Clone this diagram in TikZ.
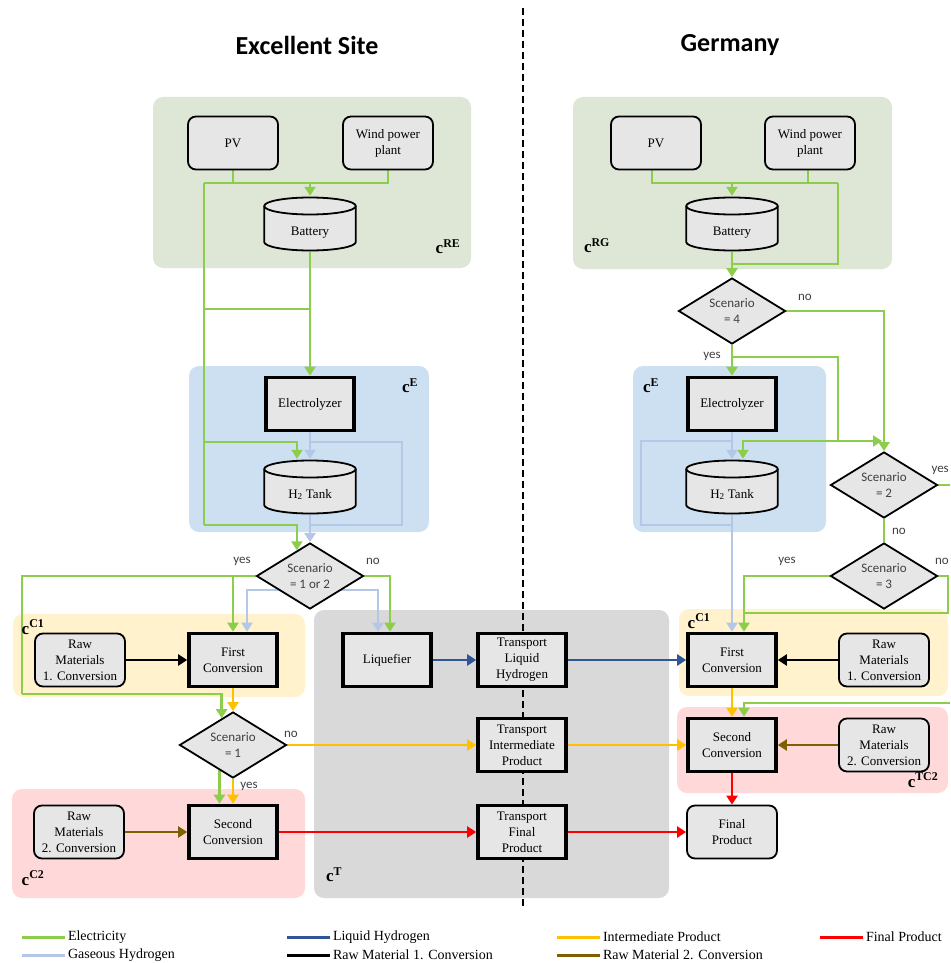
\documentclass[tikz,border=0pt]{standalone}
\usepackage{fontspec}
\setmainfont{Liberation Serif}
\newfontfamily\calibri{Carlito}
\usetikzlibrary{arrows.meta, shapes.geometric, calc}

\definecolor{ElecGreen}{RGB}{140,206,76}
\definecolor{GasBlue}{RGB}{180,199,231}
\definecolor{LiqBlue}{RGB}{47,85,151}
\definecolor{InterOrange}{RGB}{255,192,0}
\definecolor{FinalRed}{RGB}{255,0,0}
\definecolor{RawBrown}{RGB}{127,96,0}
\definecolor{BoxGray}{RGB}{231,230,230}
\definecolor{RegGreen}{RGB}{222,231,214}
\definecolor{RegBlue}{RGB}{204,224,241}
\definecolor{RegYellow}{RGB}{255,242,204}
\definecolor{RegRed}{RGB}{255,217,217}
\definecolor{RegGray}{RGB}{217,217,217}

\pgfdeclarelayer{regions}
\pgfdeclarelayer{wires}
\pgfsetlayers{regions,wires,main}

\newcommand{\boxfont}{\fontsize{13}{16}\selectfont}
\newcommand{\decfont}{\calibri\fontsize{13}{16}\selectfont}
\newcommand{\regfont}{\fontsize{17}{17}\selectfont\bfseries}
\newcommand{\legfont}{\fontsize{14}{16}\selectfont}

\begin{document}
\begin{tikzpicture}[x=1pt, y=-1pt,
  softbox/.style={draw, line width=1.8pt, rounded corners=8pt, fill=BoxGray,
    minimum width=90, minimum height=53, align=center, inner sep=1pt, font=\boxfont},
  hardbox/.style={draw, line width=3.6pt, fill=BoxGray,
    minimum width=88, minimum height=53, align=center, inner sep=1pt, font=\boxfont},
  tank/.style={minimum width=94, minimum height=56, inner sep=0pt, font=\boxfont,
    text height=22pt, text depth=0pt,
    path picture={
      \draw[fill=BoxGray, line width=1.8pt]
        ([shift={(1.2pt,-10pt)}]path picture bounding box.north west)
        -- ([shift={(1.2pt,10pt)}]path picture bounding box.south west)
        arc[start angle=180, end angle=360, x radius=45.8pt, y radius=8.5pt]
        -- ([shift={(-1.2pt,-10pt)}]path picture bounding box.north east)
        arc[start angle=0, end angle=180, x radius=45.8pt, y radius=8.5pt]
        -- cycle;
      \draw[line width=1.8pt]
        ([shift={(1.2pt,-10pt)}]path picture bounding box.north west)
        arc[start angle=180, end angle=360, x radius=45.8pt, y radius=8.5pt];
    }},
  decision/.style={diamond, draw, line width=1.8pt, fill=BoxGray, aspect=1.6,
    minimum width=107, minimum height=66, inner sep=0pt, align=center,
    font=\decfont, text=black!75},
  answer/.style={font=\decfont, text=black!75},
  region/.style={rounded corners=10pt},
  reglabel/.style={font=\regfont},
  wire/.style={line width=2.6pt},
  flowtip/.style={-{Triangle[length=9pt,width=11pt]}},
  elec/.style={wire, ElecGreen},
  elecflow/.style={elec, flowtip},
  gas/.style={wire, GasBlue},
  gasflow/.style={gas, flowtip},
  liqflow/.style={wire, LiqBlue, flowtip},
  interflow/.style={wire, InterOrange, flowtip},
  finalflow/.style={wire, FinalRed, flowtip},
  rawoneflow/.style={wire, black, flowtip},
  rawtwoflow/.style={wire, RawBrown, flowtip}]

  \useasboundingbox (0,0) rectangle (950,963);

  % site regions and the border line
  \begin{pgfonlayer}{regions}
    \fill[RegGreen, region] (153,97) rectangle (471,268);
    \fill[RegGreen, region] (573,97) rectangle (892,269);
    \fill[RegBlue, region] (189,366) rectangle (429,532);
    \fill[RegBlue, region] (633,366) rectangle (826,532);
    \fill[RegYellow, region] (13,614) rectangle (305,697);
    \fill[RegRed, region] (12,789) rectangle (305,898);
    \fill[RegGray, region] (314,610) rectangle (669,898);
    \fill[RegYellow, region] (679,609) rectangle (948,696);
    \fill[RegRed, region] (677,707) rectangle (948,793);
    \draw[line width=2.5pt, dash pattern=on 7pt off 4pt] (523,8) -- (523,908);
  \end{pgfonlayer}

  \node[font=\calibri\bfseries\fontsize{26}{26}\selectfont] (titleL) at (307,45) {Excellent Site};
  \node[font=\calibri\bfseries\fontsize{26}{26}\selectfont] (titleR) at (730,45) {Germany};

  \node[reglabel] (labRE) at (448,247) {c\textsuperscript{RE}};
  \node[reglabel] (labRG) at (597,246) {c\textsuperscript{RG}};
  \node[reglabel] (labEL) at (410,386) {c\textsuperscript{E}};
  \node[reglabel] (labER) at (651,386) {c\textsuperscript{E}};
  \node[reglabel] (labCoL) at (33,627) {c\textsuperscript{C1}};
  \node[reglabel] (labCtL) at (33,878) {c\textsuperscript{C2}};
  \node[reglabel] (labT) at (334,875) {c\textsuperscript{T}};
  \node[reglabel] (labCoR) at (699,621) {c\textsuperscript{C1}};
  \node[reglabel] (labCtR) at (923,780) {c\textsuperscript{TC2}};

  % Excellent Site
  \node[softbox] (pvL) at (233,143) {PV};
  \node[softbox] (windL) at (388,143) {Wind power\\plant};
  \node[tank] (batL) at (310,224) {Battery};
  \node[hardbox] (elecL) at (310,404) {Electrolyzer};
  \node[tank] (tankL) at (310,487) {H\textsubscript{2} Tank};
  \node[decision] (decL) at (310,576) {Scenario\\= 1 or 2};
  \node[softbox] (rawOneL) at (80,660) {Raw\\Materials\\1. Conversion};
  \node[hardbox] (firstL) at (233,660) {First\\Conversion};
  \node[decision] (decOneL) at (233,745) {Scenario\\= 1};
  \node[softbox] (rawTwoL) at (79,832) {Raw\\Materials\\2. Conversion};
  \node[hardbox] (secondL) at (233,832) {Second\\Conversion};

  % transport
  \node[hardbox] (liq) at (387,660) {Liquefier};
  \node[hardbox] (tLiq) at (522,660) {Transport\\Liquid\\Hydrogen};
  \node[hardbox] (tInt) at (522,745) {Transport\\Intermediate\\Product};
  \node[hardbox] (tFin) at (522,832) {Transport\\Final\\Product};

  % Germany
  \node[softbox] (pvR) at (656,143) {PV};
  \node[softbox] (windR) at (810,143) {Wind power\\plant};
  \node[tank] (batR) at (732,224) {Battery};
  \node[decision] (decFour) at (732,311) {Scenario\\= 4};
  \node[hardbox] (elecR) at (732,404) {Electrolyzer};
  \node[tank] (tankR) at (732,487) {H\textsubscript{2} Tank};
  \node[decision] (decTwo) at (884,485) {Scenario\\= 2};
  \node[decision] (decThree) at (884,576) {Scenario\\= 3};
  \node[hardbox] (firstR) at (732,660) {First\\Conversion};
  \node[softbox] (rawOneR) at (884,660) {Raw\\Materials\\1. Conversion};
  \node[hardbox] (secondR) at (732,745) {Second\\Conversion};
  \node[softbox] (rawTwoR) at (884,745) {Raw\\Materials\\2. Conversion};
  \node[softbox] (final) at (732,832) {Final\\Product};

  \node[answer] (yesL) at (242,561) {yes};
  \node[answer] (noL) at (373,561) {no};
  \node[answer] (noOneL) at (291,734) {no};
  \node[answer] (yesOneL) at (249,786) {yes};
  \node[answer] (noFour) at (805,297) {no};
  \node[answer] (yesFour) at (712,356) {yes};
  \node[answer, anchor=east, inner xsep=1pt] (yesTwo) at (950,470) {yes};
  \node[answer] (noTwo) at (899,531) {no};
  \node[answer] (yesThree) at (787,561) {yes};
  \node[answer, anchor=east, inner xsep=1pt] (noThreeLab) at (950,561) {no};

  \coordinate (busL) at (204,183);
  \coordinate (midL) at (204,309);
  \coordinate (tkL) at (204,442);
  \coordinate (trunkL) at (204,525);
  \coordinate (loopL) at (22,694);
  \coordinate (gasL) at (310,590);
  \coordinate (busR) at (838,183);
  \coordinate (retR) at (838,264);
  \coordinate (yesR) at (732,357);
  \coordinate (brR) at (838,441);
  \coordinate (edgeTwo) at (950,485);
  \coordinate (noThree) at (948,613);
  \coordinate (edgeSec) at (950,703);
  \coordinate (inFirstR) at ([xshift=12pt]firstR.north);
  \coordinate (inSecondR) at ([xshift=12pt]secondR.north);

  \begin{pgfonlayer}{wires}
    % Excellent Site: electricity
    \draw[elec] (pvL.south) -- (pvL.south |- busL);
    \draw[elec] (windL.south) |- (busL);
    \draw[elecflow] (batL.north |- busL) -- (batL.north);
    \draw[elec] (busL) -- (trunkL);
    \draw[elecflow] (trunkL) -| (decL.117);
    \draw[elec] (midL) -- (midL -| batL.south);
    \draw[elecflow] (batL.south) -- (elecL.north);
    \draw[elecflow] (tkL) -| ([xshift=-13pt]tankL.north);
    % Excellent Site: gaseous hydrogen
    \draw[gasflow] (elecL.south) -- (tankL.north);
    \draw[gas] (elecL.south |- tkL) -- ++(92,0) |- (tankL.south |- trunkL);
    \draw[gasflow] (tankL.south) -- (decL.north);
    % scenario 1 or 2
    \draw[elecflow] (decL.west) -| (firstL.north);
    \draw[elec] (decL.west) -| (loopL);
    \draw[elecflow] (loopL) -| (decOneL.113);
    \draw[elecflow] (decL.east) -| ([xshift=3pt]liq.north);
    \draw[gasflow] (gasL) -| ([xshift=14pt]firstL.north);
    \draw[gasflow] (gasL) -| ([xshift=-9pt]liq.north);
    % scenario 1
    \draw[interflow] (firstL.south) -- (decOneL.north);
    \draw[interflow] (decOneL.east) -- (tInt.west);
    \draw[elecflow] (decOneL.242) -- (decOneL.242 |- secondL.north);
    \draw[interflow] (decOneL.south) -- (secondL.north);
    \draw[rawoneflow] (rawOneL) -- (firstL);
    \draw[rawtwoflow] (rawTwoL) -- (secondL);
    % transport
    \draw[finalflow] (secondL) -- (tFin);
    \draw[liqflow] (liq) -- (tLiq);
    \draw[liqflow] (tLiq) -- (firstR);
    \draw[interflow] (tInt) -- (secondR);
    \draw[finalflow] (tFin) -- (final);
    % Germany: electricity
    \draw[elec] ([xshift=-4pt]pvR.south) |- (busR);
    \draw[elec] ([xshift=-2pt]windR.south) -- ([xshift=-2pt]windR.south |- busR);
    \draw[elecflow] (batR.north |- busR) -- (batR.north);
    \draw[elec] (busR) -- (retR) -- (retR -| batR.south);
    \draw[elecflow] (batR.south) -- (decFour.north);
    \draw[elecflow] (decFour.east) -| (decTwo.north);
    \draw[elecflow] (decFour.south) -- (elecR.north);
    \draw[elec] (yesR) -| (brR);
    \draw[elecflow, shorten >=2pt] (brR) -- (brR -| decTwo.north);
    \draw[elecflow] (brR) -| ([xshift=11pt]tankR.north);
    % Germany: gaseous hydrogen
    \draw[gasflow] (elecR.south) -- (tankR.north);
    \draw[gas] (elecR.south |- brR) -- ++(-91,0) |- (tankR.south |- trunkL);
    \draw[gasflow] (tankR.south) -- (firstR.north);
    % scenarios 2 and 3
    \draw[elec] (decTwo.east) -- (edgeTwo);
    \draw[elec] (decTwo.south) -- (decThree.north);
    \draw[elecflow] (decThree.west) -| (inFirstR);
    \draw[elec] (decThree.east) -| (noThree) -- (inFirstR |- noThree);
    \draw[elecflow] (edgeSec) -| (inSecondR);
    \draw[interflow] (firstR.south) -- (secondR.north);
    \draw[rawoneflow] (rawOneR) -- (firstR);
    \draw[rawtwoflow] (rawTwoR) -- (secondR);
    \draw[finalflow] (secondR) -- (final);
  \end{pgfonlayer}

  % legend
  \foreach \x/\y/\col/\txt [count=\i] in {22/937/ElecGreen/Electricity,
      22/955/GasBlue/Gaseous Hydrogen, 287/937/LiqBlue/Liquid Hydrogen,
      287/955/black/Raw Material 1. Conversion, 557/937/InterOrange/Intermediate Product,
      557/955/RawBrown/Raw Material 2. Conversion, 820/937/FinalRed/Final Product}
    \draw[\col, line width=3pt] (\x,\y) -- ++(43,0)
      node[right, inner sep=1.5pt, text=black, font=\legfont] (leg\i) {\txt};
\end{tikzpicture}
\end{document}
